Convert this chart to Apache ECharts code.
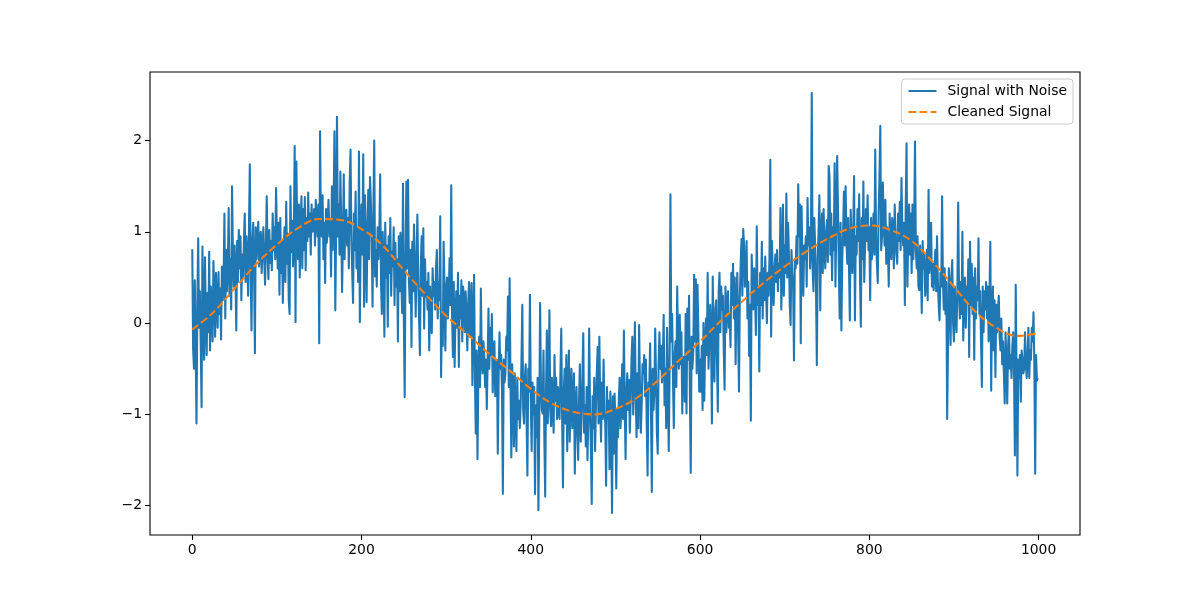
<!DOCTYPE html>
<html>
<head>
<meta charset="utf-8">
<script src="https://cdn.jsdelivr.net/npm/echarts@6/dist/echarts.min.js"></script>
<style>
html,body{margin:0;padding:0;background:#fff;}
#chart{width:1200px;height:600px;}
</style>
</head>
<body>
<div id="chart"></div>
<script>
// Series names
const seriesNames = ['Signal with Noise', 'Cleaned Signal'];
// Tick labels
const xTicks = [0, 200, 400, 600, 800, 1000];
const yTicks = [-2, -1, 0, 1, 2];

// Noisy signal, one value per sample index 0..999
const noisy = [
// 0-77
0.81,-0.28,-0.50,0.47,-0.30,-1.10,0.20,0.93,-0.05,0.35,
-0.25,-0.92,0.84,0.10,-0.40,0.72,0.05,-0.35,0.33,-0.10,
0.78,-0.30,0.40,0.12,-0.20,0.68,0.30,-0.15,0.55,0.20,
-0.05,0.56,0.10,0.38,-0.18,0.62,0.25,0.45,1.20,0.05,
0.80,0.35,0.60,1.26,0.30,0.70,0.15,1.50,0.75,0.40,
0.85,0.55,-0.08,0.90,0.45,1.02,0.60,0.95,0.25,0.75,
0.50,0.88,1.20,0.45,0.95,0.70,0.30,1.05,1.74,0.55,
-0.08,0.90,1.10,0.60,-0.33,1.05,0.70,0.95,
// 78-162
1.11,0.62,0.95,1.00,0.55,0.80,1.05,0.70,0.42,0.85,
1.39,0.75,0.48,1.02,0.66,0.90,0.58,1.20,0.80,1.05,
0.70,1.48,0.95,0.60,1.10,0.31,1.15,0.55,0.90,0.22,
0.80,1.05,0.45,1.33,0.65,0.98,0.25,0.10,1.50,0.78,
1.12,0.62,0.95,1.94,0.01,1.77,1.00,0.70,1.30,0.50,
1.05,1.39,0.60,1.25,0.80,1.38,0.58,1.15,0.90,1.43,
0.95,1.20,0.75,1.30,1.00,
1.05,1.25,0.85,1.35,1.10,0.95,1.30,-0.22,2.10,1.05,
0.95,1.40,0.70,1.10,0.44,1.25,0.88,1.15,1.35,0.95,
// 163-245
1.13,0.51,1.50,0.80,1.25,2.10,0.14,1.05,2.26,0.95,
1.30,0.75,1.66,1.10,0.34,0.90,1.63,0.70,1.20,1.24,
0.85,1.15,0.60,1.54,1.90,0.95,0.55,0.22,1.20,0.80,
1.44,0.60,1.05,0.45,1.88,0.01,0.90,1.30,0.75,1.85,
0.18,1.40,0.85,0.23,1.10,1.46,0.70,1.60,1.35,0.95,
0.18,1.20,2.00,0.51,0.80,0.40,1.05,0.70,0.95,1.63,
0.45,0.10,1.00,0.60,-0.15,1.10,0.50,0.85,-0.04,0.95,
0.55,1.15,0.30,0.78,0.62,1.05,0.20,0.88,0.40,0.70,-0.20,0.95,0.35,
// 246-329
0.99,0.47,0.11,1.53,0.03,-0.81,0.75,1.55,0.60,1.57,
0.47,0.22,0.80,-0.26,0.89,0.35,1.08,0.55,0.07,0.70,
1.19,0.50,0.05,-0.35,0.60,0.95,0.30,1.04,-0.06,0.70,
0.29,0.45,0.15,0.55,-0.30,0.40,0.05,-0.11,0.60,0.30,
0.45,0.15,0.60,0.80,0.05,0.45,0.25,1.17,-0.59,0.10,
-0.25,0.89,0.40,-0.30,0.35,0.50,0.05,0.25,0.71,0.20,
1.51,0.08,-0.37,0.45,-0.48,0.10,0.35,-0.05,0.55,-0.48,
0.30,0.05,0.47,-0.20,0.40,0.25,-0.10,0.35,0.10,-0.30,0.20,0.45,-0.15,0.15,
// 330-413
0.44,-0.68,-0.05,0.53,-0.60,-1.21,-0.30,-1.49,-0.60,-0.15,
-0.70,0.38,-0.35,-0.55,-0.20,-0.35,-0.70,-0.40,-0.94,-0.45,
0.16,-0.50,-0.05,-0.35,0.10,-0.76,-0.35,-0.20,-0.80,-0.45,
-0.40,-1.43,-0.60,-0.10,-0.50,-0.35,-0.75,-1.87,-0.40,-0.65,
-0.55,-0.15,-0.30,0.29,-0.70,0.49,-0.60,-1.47,-0.45,-0.75,
-1.35,-0.55,-0.95,-1.40,-0.60,-1.05,-0.85,-1.15,-0.90,-0.40,
0.20,-0.95,-1.10,-0.60,-0.45,-1.05,-1.67,-0.50,-0.75,0.31,
-0.85,-1.40,-0.65,-1.00,-0.70,-1.87,-0.90,-1.25,-0.60,-2.05,-1.10,0.22,-0.70,-0.95,
// 414-497
-0.99,-0.30,-1.25,-1.90,-0.75,-0.08,-1.10,-0.70,0.14,-0.95,
-1.13,-0.60,-0.90,-1.20,-0.35,-0.85,-0.60,-1.05,-0.70,-0.95,
-1.05,-0.55,-0.06,-1.00,-1.80,-0.75,-0.50,-1.10,-0.35,-1.40,
-0.80,-0.30,-1.30,-0.75,-0.50,-1.15,-0.85,-0.55,-1.65,-0.90,
-0.70,-1.20,-1.50,-0.85,-0.45,-1.30,-1.05,-0.60,-0.11,-1.20,
-0.90,-1.35,-0.70,-1.50,-1.00,-0.06,-0.95,-1.35,-1.98,-0.80,
-1.15,-0.60,-1.40,-0.90,-0.55,-0.26,-1.10,-0.15,-0.85,-1.30,
-0.65,-1.05,-0.40,-0.95,-1.10,-1.78,-0.70,-1.05,-0.85,-1.60,-0.75,-1.10,-2.08,-0.80,
// 498-581
-1.43,-0.77,-1.10,-1.81,-0.95,-1.25,-0.85,-0.60,-1.15,-0.90,
-0.45,-1.05,-0.08,-0.90,-1.49,-0.75,-0.55,-0.95,-0.62,-1.20,
-0.85,-0.40,-0.15,-1.00,-0.60,0.01,-0.80,-1.25,-0.55,-1.15,
-0.02,-0.70,-1.20,-0.90,-0.45,-0.55,-0.35,-0.80,-0.40,-1.10,
-1.67,-0.65,-0.70,-0.22,-0.95,-1.85,-0.50,-0.95,-0.75,-0.06,
-0.60,-1.20,-1.43,-0.45,-0.10,-0.50,-0.25,-0.65,-0.40,0.09,
-0.90,-0.50,-1.15,-0.05,-0.70,-1.40,-0.55,1.41,-0.20,0.10,
-0.60,-1.15,-0.35,-0.20,-0.70,0.40,-0.30,-0.50,0.09,-0.45,-0.10,-0.99,-0.40,-0.37,
// 582-665
-0.86,0.10,-0.99,0.16,-0.40,0.30,-0.79,-1.64,-0.15,-0.50,
-0.30,0.53,-0.20,0.48,-0.55,0.42,-0.10,-0.75,-0.40,-0.75,
-0.25,-0.95,0.00,-0.85,-0.25,0.05,-0.35,0.55,-0.50,-0.20,
0.20,-0.15,-1.10,0.51,-0.30,-0.64,0.15,0.25,-0.40,-0.97,
0.35,0.55,-0.10,0.40,0.15,0.30,-0.30,-0.73,0.40,-0.10,
0.20,0.35,-0.05,0.10,-0.26,0.55,0.20,0.65,0.05,0.50,
-0.45,0.25,0.55,-0.10,-0.75,0.30,0.65,0.92,0.30,1.03,
0.85,0.40,0.55,0.90,0.05,0.45,-0.36,0.20,-1.07,0.75,0.40,0.15,0.60,0.33,
// 666-749
-0.13,1.06,0.20,0.40,-0.53,0.55,0.20,0.89,0.05,0.60,
0.25,0.73,0.35,0.00,0.55,0.30,0.70,1.79,-0.15,0.90,
0.45,0.20,0.60,0.75,0.45,0.80,0.35,0.65,0.50,1.26,
0.15,0.60,1.30,0.30,0.85,0.55,1.42,0.50,1.10,0.75,
0.20,-0.02,0.80,0.55,0.40,-0.41,0.70,0.60,0.95,0.65,
1.52,0.95,1.30,-0.22,1.28,0.60,0.30,0.85,0.70,0.95,
0.40,1.37,0.85,1.05,0.60,0.80,2.52,0.60,0.35,1.15,
0.85,0.40,-0.46,0.70,1.00,1.40,0.14,0.95,1.20,0.55,1.25,0.80,0.60,1.00,
// 750-832
1.13,0.67,1.72,1.60,0.75,1.20,0.47,1.05,0.80,1.75,
0.40,1.10,1.83,1.25,0.60,0.05,1.10,-0.08,0.70,1.00,
1.44,0.85,1.50,0.90,0.65,1.15,0.60,0.03,1.24,0.85,
0.55,1.00,1.61,0.03,0.95,0.75,1.25,0.90,1.41,0.50,
-0.04,1.15,0.70,1.55,0.45,0.85,1.25,0.90,1.40,0.80,
1.05,0.25,1.15,0.70,0.95,1.20,0.75,1.90,0.95,0.65,
0.44,1.20,1.60,2.16,0.80,0.95,1.54,1.10,0.85,1.35,
0.65,1.05,0.80,0.40,1.20,0.95,0.70,1.15,1.05,0.60,1.30,0.95,0.75,
// 833-916
0.65,1.20,0.90,1.33,0.80,1.59,1.05,0.85,1.10,0.20,
1.25,1.97,0.40,0.95,1.30,0.75,1.20,0.55,1.30,0.70,
1.05,1.99,0.80,0.60,0.95,0.40,0.36,0.85,0.55,0.11,
0.90,0.60,0.75,0.30,0.45,0.80,0.25,1.46,0.55,0.70,
1.10,0.40,0.65,0.36,0.60,0.80,0.35,0.95,0.45,0.20,
0.03,0.55,0.40,1.39,0.45,0.15,0.60,0.10,0.45,-1.05,
-0.24,0.60,0.35,-0.24,0.50,0.69,0.00,-0.20,0.40,0.15,
-0.10,0.30,1.32,0.35,0.05,0.45,0.10,1.00,-0.19,0.30,0.50,-0.05,0.40,0.25,
// 917-999
0.70,-0.37,0.89,0.20,0.65,0.10,0.50,-0.40,0.60,0.05,
0.40,0.25,0.93,0.10,0.35,-0.20,-0.70,0.40,-0.10,0.35,
0.15,0.45,0.05,0.40,-0.20,0.30,0.89,-0.74,0.15,0.40,
-0.30,0.25,-0.59,0.20,-0.10,0.15,0.30,-0.15,-0.30,0.05,
-0.45,-0.20,-0.55,-0.88,-0.10,-0.45,-0.88,-0.25,-0.05,-0.50,
-0.35,-0.60,-0.25,-0.10,-0.55,-1.45,0.42,-0.60,-1.67,-0.40,
-0.60,-0.35,-0.86,-0.30,-0.40,-0.55,-0.50,-0.10,-0.45,-0.60,
-0.35,-0.05,-0.60,-0.30,-0.40,-0.05,-0.20,0.12,-0.45,-1.65,-0.35,-0.63,-0.60
];

// Cleaned (smoothed) signal, read at these sample positions
const cleanX = [0,25,50,75,100,125,150,175,200,225,250,275,300,325,350,375,400,425,450,475,500,525,550,575,600,625,650,675,700,725,750,775,800,825,850,875,900,925,950,975,999];
const cleanY = [-0.07,0.12,0.38,0.64,0.86,1.04,1.14,1.13,1.03,0.85,0.58,0.32,0.08,-0.12,-0.33,-0.52,-0.72,-0.88,-0.97,-1.00,-0.94,-0.82,-0.63,-0.41,-0.20,0.03,0.24,0.44,0.62,0.78,0.92,1.03,1.07,1.02,0.90,0.67,0.40,0.13,-0.05,-0.14,-0.11];

const FONT = 'DejaVu Sans';
const minus = v => (v < 0 ? '\u2212' + Math.abs(v) : String(v));

const chart = echarts.init(document.getElementById('chart'), null, {renderer: 'canvas'});
chart.setOption({
  animation: false,
  backgroundColor: '#fff',
  textStyle: {fontFamily: FONT},
  grid: {left: 150, right: 120, top: 72, bottom: 65, show: true, borderColor: '#000', borderWidth: 1.1, backgroundColor: '#fff'},
  legend: {
    show: true,
    orient: 'vertical', right: 127, top: 79,
    backgroundColor: 'rgba(255,255,255,0.8)', borderColor: '#cccccc', borderWidth: 1, borderRadius: 3,
    padding: [5, 6, 5, 6], itemGap: 7, itemWidth: 28, itemHeight: 14,
    itemStyle: {color: 'rgba(0,0,0,0)', borderWidth: 0, opacity: 0},
    textStyle: {fontFamily: FONT, fontSize: 13.9, color: '#000', padding: [0, 0, 0, 6]},
    data: seriesNames
  },
  xAxis: {
    type: 'value', min: -49.95, max: 1048.95,
    splitLine: {show: false},
    axisLine: {show: false, onZero: false},
    axisTick: {show: true, inside: false, length: 5, lineStyle: {color: '#000', width: 1.1}, customValues: xTicks},
    axisLabel: {show: true, margin: 8, color: '#000', fontSize: 13.9, fontFamily: FONT, customValues: xTicks, formatter: minus}
  },
  yAxis: {
    type: 'value', min: -2.3205, max: 2.7505,
    splitLine: {show: false},
    axisLine: {show: false, onZero: false},
    axisTick: {show: true, inside: false, length: 5, lineStyle: {color: '#000', width: 1.1}, customValues: yTicks},
    axisLabel: {show: true, margin: 8, color: '#000', fontSize: 13.9, fontFamily: FONT, customValues: yTicks, formatter: minus}
  },
  series: [
    {
      name: seriesNames[0], type: 'line', showSymbol: false, symbol: 'none',
      data: noisy.map((v, i) => [i, v]),
      lineStyle: {color: '#1f77b4', width: 2.08, join: 'round', cap: 'butt'},
      itemStyle: {color: '#1f77b4'},
      z: 2
    },
    {
      name: seriesNames[1], type: 'line', showSymbol: false, symbol: 'none', smooth: 0.4,
      data: cleanX.map((x, i) => [x, cleanY[i]]),
      lineStyle: {color: '#ff7f0e', width: 2.08, type: [7.7, 3.33], dashOffset: 0},
      itemStyle: {color: '#ff7f0e'},
      z: 3
    }
  ]
});
</script>
</body>
</html>
